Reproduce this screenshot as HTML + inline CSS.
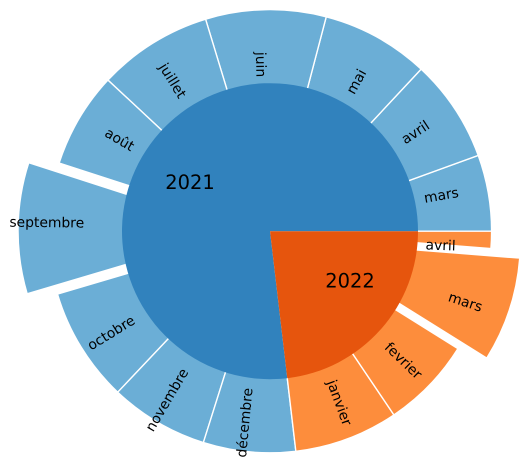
<!DOCTYPE html>
<html lang="fr">
<head>
<meta charset="utf-8">
<title>Nested pie chart</title>
<style>
  html, body { margin: 0; padding: 0; background: #ffffff; }
  body { width: 529px; height: 467px; overflow: hidden; }
  svg { display: block; }
  text { font-family: "DejaVu Sans", "Liberation Sans", sans-serif; fill: #000000; }
</style>
</head>
<body>
<svg id="chart" xmlns="http://www.w3.org/2000/svg" width="529" height="467" viewBox="0 0 529 467">
  <g id="outer-ring"></g>
  <g id="inner-ring"></g>
  <g id="labels"></g>
</svg>
<script>
// Chart data
const monthLabels = ['mars', 'avril', 'mai', 'juin', 'juillet', 'août', 'septembre', 'octobre', 'novembre', 'décembre', 'janvier', 'fevrier', 'mars', 'avril'];
const monthValues = [20, 27, 28.3, 31.6, 30.1, 25.1, 34.4, 30.1, 25.9, 24.2, 27.3, 24, 27.5, 4.5];
const monthYearIndex = [0, 0, 0, 0, 0, 0, 0, 0, 0, 0, 1, 1, 1, 1];
const monthExplode = [0, 0, 0, 0, 0, 0, 0.137, 0, 0, 0, 0, 0, 0.137, 0];
const yearLabels = ['2021', '2022'];

const SVG_NS = 'http://www.w3.org/2000/svg';
const centerX = 270;
const centerY = 231.2;
const outerRadius = 221.6;
const innerRadius = 148;
const outerLabelDistance = 155.4;
const innerLabelDistance = 74;
const outerFontSize = 13.89;
const innerFontSize = 19.44;
const labelShiftY = 1.5;
const outerColors = ['#6baed6', '#fd8d3c'];
const innerColors = ['#3182bd', '#e6550d'];

const total = monthValues.reduce(function (a, b) { return a + b; }, 0);
const yearValues = yearLabels.map(function (_, y) {
  return monthValues.reduce(function (sum, v, i) { return monthYearIndex[i] === y ? sum + v : sum; }, 0);
});

function angleOf(value) { return value / total * 360; }
function rad(deg) { return deg * Math.PI / 180; }
function px(cx, r, deg) { return cx + r * Math.cos(rad(deg)); }
function py(cy, r, deg) { return cy - r * Math.sin(rad(deg)); }

function wedgePath(cx, cy, r, a0, a1) {
  const large = (a1 - a0) > 180 ? 1 : 0;
  return 'M' + cx + ' ' + cy +
    'L' + px(cx, r, a0) + ' ' + py(cy, r, a0) +
    'A' + r + ' ' + r + ' 0 ' + large + ' 0 ' + px(cx, r, a1) + ' ' + py(cy, r, a1) + 'Z';
}

// Places a label like matplotlib: the rotated bounding box is aligned to the anchor point.
function addLabel(parent, str, cx, cy, dist, midDeg, fontSize, rotated, nameText) {
  const ax = px(cx, dist, midDeg);
  const ay = py(cy, dist, midDeg);
  const isRight = ax - cx > 0;
  const isUp = cy - ay > 0;
  const t = document.createElementNS(SVG_NS, 'text');
  
  
  t.setAttribute('font-size', fontSize);
  t.setAttribute('text-anchor', 'middle');
  t.textContent = str;
  parent.appendChild(t);
  const w = t.getComputedTextLength();
  const h = fontSize * 0.968;
  const rot = rotated ? (isRight ? midDeg : midDeg + 180) : 0;
  const c = Math.abs(Math.cos(rad(rot)));
  const s = Math.abs(Math.sin(rad(rot)));
  const bw = w * c + h * s;
  const bh = w * s + h * c;
  const bx = isRight ? ax + bw / 2 : ax - bw / 2;
  let by;
  if (rotated) {
    by = isUp ? ay - bh / 2 : ay + bh / 2;
  } else {
    by = ay;
  }
  t.setAttribute('transform', 'translate(' + bx + ' ' + (by + labelShiftY) + ') rotate(' + (-rot) + ')');
  t.setAttribute('y', fontSize * 0.276);
}

const outerGroup = document.getElementById('outer-ring');
const innerGroup = document.getElementById('inner-ring');
const labelGroup = document.getElementById('labels');

let cursor = 0;
monthValues.forEach(function (value, i) {
  const a0 = cursor;
  const a1 = cursor + angleOf(value);
  cursor = a1;
  const mid = (a0 + a1) / 2;
  const shift = monthExplode[i] * outerRadius;
  const cx = px(centerX, shift, mid);
  const cy = py(centerY, shift, mid);
  const p = document.createElementNS(SVG_NS, 'path');
  
  
  p.setAttribute('d', wedgePath(cx, cy, outerRadius, a0, a1));
  p.setAttribute('fill', outerColors[monthYearIndex[i]]);
  p.setAttribute('stroke', '#ffffff');
  p.setAttribute('stroke-width', '1.39');
  p.setAttribute('stroke-linejoin', 'miter');
  outerGroup.appendChild(p);
  addLabel(labelGroup, monthLabels[i], cx, cy, outerLabelDistance, mid, outerFontSize, true, 'label-' + monthLabels[i] + '-' + yearLabels[monthYearIndex[i]]);
});

cursor = 0;
yearValues.forEach(function (value, i) {
  const a0 = cursor;
  const a1 = cursor + angleOf(value);
  cursor = a1;
  const mid = (a0 + a1) / 2;
  const p = document.createElementNS(SVG_NS, 'path');
  
  
  p.setAttribute('d', wedgePath(centerX, centerY, innerRadius, a0, a1));
  p.setAttribute('fill', innerColors[i]);
  innerGroup.appendChild(p);
  addLabel(labelGroup, yearLabels[i], centerX, centerY, innerLabelDistance, mid, innerFontSize, false, 'label-year-' + yearLabels[i]);
});
</script>
</body>
</html>
